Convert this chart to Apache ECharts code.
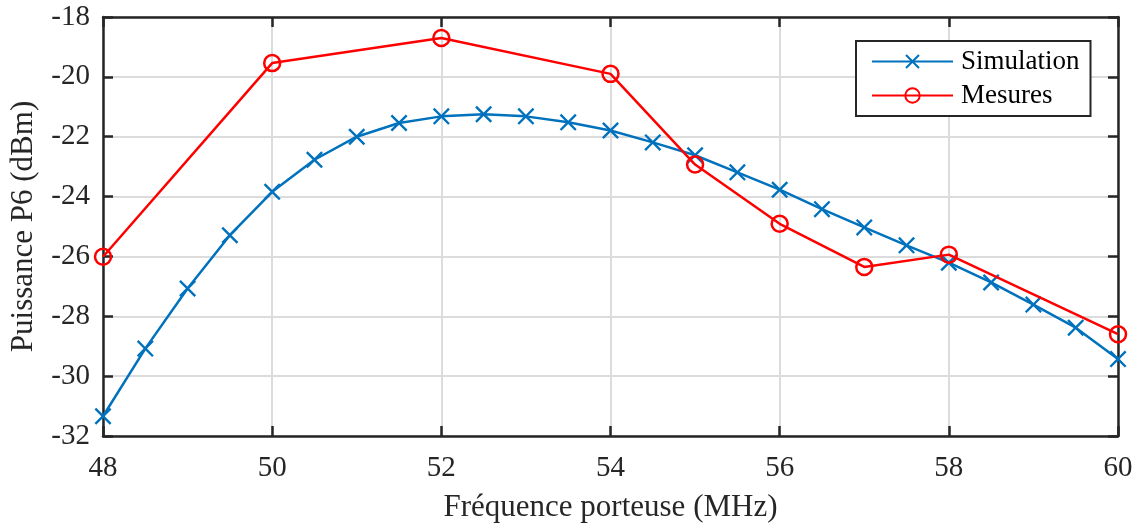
<!DOCTYPE html>
<html>
<head>
<meta charset="utf-8">
<script src="https://cdn.jsdelivr.net/npm/echarts@6/dist/echarts.min.js"></script>
<style>html,body{margin:0;padding:0;background:#fff;}#c{width:1138px;height:528px;}</style>
</head>
<body>
<div id="c"></div>
<script>
const simFreq = [48,48.5,49,49.5,50,50.5,51,51.5,52,52.5,53,53.5,54,54.5,55,55.5,56,56.5,57,57.5,58,58.5,59,59.5,60];
const simValues = [-31.34,-29.08,-27.07,-25.29,-23.84,-22.77,-22.0,-21.54,-21.32,-21.25,-21.32,-21.52,-21.79,-22.19,-22.62,-23.19,-23.77,-24.42,-25.03,-25.63,-26.21,-26.87,-27.61,-28.38,-29.43];
const mesFreq = [48,50,52,54,55,56,57,58,60];
const mesValues = [-26.01,-19.54,-18.70,-19.90,-22.93,-24.91,-26.35,-25.94,-28.60];
const xTicks = [48,50,52,54,56,58,60];
const yTicks = [-32,-30,-28,-26,-24,-22,-20,-18];

const FONT = '"Liberation Serif", "DejaVu Serif", serif';
const AX = '#262626';
const crossPath = 'path://M0,10 L10,0 L50,40 L90,0 L100,10 L60,50 L100,90 L90,100 L50,60 L10,100 L0,90 L40,50 Z';

const chart = echarts.init(document.getElementById('c'), null, {renderer:'canvas'});
const xMin = xTicks[0], xMax = xTicks[xTicks.length-1];
const yMin = yTicks[0], yMax = yTicks[yTicks.length-1];
const xInt = xTicks[1]-xTicks[0], yInt = yTicks[1]-yTicks[0];

chart.setOption({
  animation:false,
  backgroundColor:'#fff',
  grid:{left:103, right:20, top:17, bottom:89, containLabel:false},
  legend:{
    orient:'vertical', left:856, top:41,
    backgroundColor:'#fff', borderColor:AX, borderWidth:2, borderRadius:0,
    padding:[7,11,7,15], itemWidth:81, itemHeight:18, itemGap:7,
    textStyle:{fontFamily:FONT, fontSize:27, lineHeight:27, color:'#000', padding:[0,0,0,3]},
    data:['Simulation','Mesures']
  },
  xAxis:[{
    type:'value', min:xMin, max:xMax, interval:xInt,
    name:'Fréquence porteuse (MHz)', nameLocation:'middle', nameGap:56,
    nameTextStyle:{fontFamily:FONT, fontSize:31, color:'#262626'},
    axisLine:{onZero:false, lineStyle:{color:AX, width:2.5}},
    axisTick:{inside:true, length:10, lineStyle:{color:AX, width:2.5}},
    axisLabel:{fontFamily:FONT, fontSize:29, color:'#262626', margin:18},
    splitLine:{show:true, lineStyle:{color:'#dcdcdc', width:2}}
  },{
    type:'value', position:'top', min:xMin, max:xMax, interval:xInt,
    axisLine:{onZero:false, lineStyle:{color:AX, width:2.5}},
    axisTick:{inside:true, length:10, lineStyle:{color:AX, width:2.5}},
    axisLabel:{show:false}, splitLine:{show:false}
  }],
  yAxis:[{
    type:'value', min:yMin, max:yMax, interval:yInt,
    name:'Puissance P6 (dBm)', nameLocation:'middle', nameGap:64,
    nameTextStyle:{fontFamily:FONT, fontSize:31, color:'#262626'},
    axisLine:{onZero:false, lineStyle:{color:AX, width:2.5}},
    axisTick:{inside:true, length:10, lineStyle:{color:AX, width:2.5}},
    axisLabel:{fontFamily:FONT, fontSize:29, color:'#262626', margin:13},
    splitLine:{show:true, lineStyle:{color:'#dcdcdc', width:2}}
  },{
    type:'value', position:'right', min:yMin, max:yMax, interval:yInt,
    axisLine:{onZero:false, lineStyle:{color:AX, width:2.5}},
    axisTick:{inside:true, length:10, lineStyle:{color:AX, width:2.5}},
    axisLabel:{show:false}, splitLine:{show:false}
  }],
  series:[{
    name:'Simulation', type:'line',
    data: simFreq.map((f,i)=>[f, simValues[i]]),
    symbol:crossPath, symbolSize:17,
    lineStyle:{color:'#0072BD', width:2.5},
    itemStyle:{color:'#0072BD'},
    z:3
  },{
    name:'Mesures', type:'line',
    data: mesFreq.map((f,i)=>[f, mesValues[i]]),
    symbol:'circle', symbolSize:16,
    lineStyle:{color:'#FF0000', width:2.5},
    itemStyle:{color:'rgba(0,0,0,0)', borderColor:'#FF0000', borderWidth:2.5},
    z:4
  }]
});
</script>
</body>
</html>
